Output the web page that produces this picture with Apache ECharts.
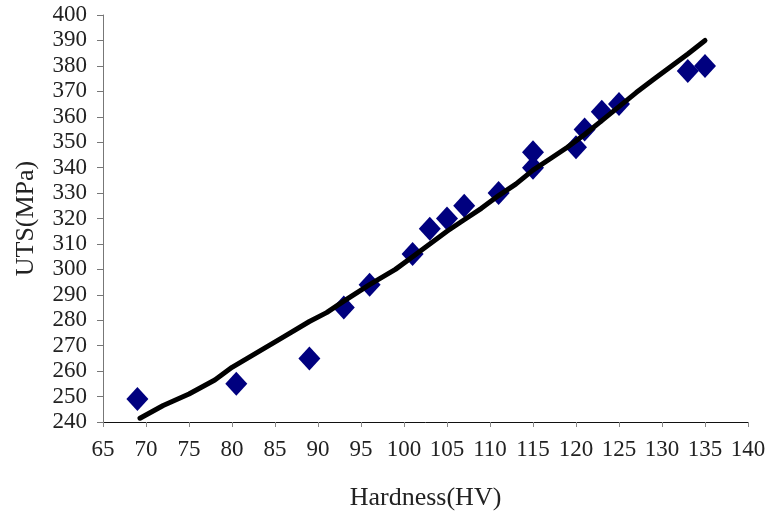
<!DOCTYPE html>
<html>
<head>
<meta charset="utf-8">
<script src="https://cdn.jsdelivr.net/npm/echarts@6/dist/echarts.min.js"></script>
<style>
  html, body { margin: 0; padding: 0; background: #fff; }
  #chart { width: 770px; height: 517px; }
</style>
</head>
<body>
<div id="chart"></div>
<script>
// measured points: hardness (HV) vs UTS (MPa)
const hardness = [69, 80.5, 89, 93, 96, 101, 103, 105, 107, 111, 115, 115, 120, 121, 123, 125, 133, 135]
const uts = [249, 255, 265, 285, 294, 306, 316, 320, 325, 330, 346, 340, 348, 355, 362, 365, 378, 380]

// fitted curve
const fitX = [69.3, 72, 75, 78, 80, 83, 86, 89, 91, 93, 96, 99, 101, 103, 105, 107, 109, 111, 113, 115, 117, 119, 121, 123, 125, 127, 129, 131, 133, 135]
const fitY = [241.5, 246.5, 251, 256.5, 261.5, 267.5, 273.5, 279.5, 283, 287.5, 294, 300, 305, 310, 315, 319.5, 324, 329, 333.5, 339, 343.5, 348, 353, 358.5, 364, 369.5, 374.6, 379.7, 384.7, 390]

const font = 'Liberation Serif'

let pts = []
for (let i = 0; i < hardness.length; i++) {
  pts.push([hardness[i], uts[i]])
}
let fit = []
for (let i = 0; i < fitX.length; i++) {
  fit.push([fitX[i], fitY[i]])
}

var myChart = echarts.init(document.getElementById('chart'))

myChart.setOption({
  backgroundColor: '#fff',
  animation: false,
  grid: {
    left: 103,
    right: 22,
    top: 15,
    bottom: 95
  },
  xAxis: {
    type: 'value',
    min: 65,
    max: 140,
    interval: 5,
    name: 'Hardness(HV)',
    nameLocation: 'middle',
    nameGap: 63,
    nameTextStyle: { fontFamily: font, fontSize: 26, color: '#222' },
    axisLine: { lineStyle: { color: '#111', width: 1 } },
    axisTick: { length: 5, lineStyle: { color: '#888' } },
    axisLabel: { fontFamily: font, fontSize: 23, color: '#222', margin: 16 },
    splitLine: { show: false }
  },
  yAxis: {
    type: 'value',
    min: 240,
    max: 400,
    interval: 10,
    name: 'UTS(MPa)',
    nameLocation: 'middle',
    nameGap: 64,
    nameTextStyle: { fontFamily: font, fontSize: 26, color: '#222' },
    axisLine: { show: true, lineStyle: { color: '#777', width: 1 } },
    axisTick: { show: true, length: 6, lineStyle: { color: '#777' } },
    axisLabel: { fontFamily: font, fontSize: 23, color: '#222', margin: 16 },
    splitLine: { show: false }
  },
  series: [
    {
      name: 'data',
      type: 'scatter',
      symbol: 'diamond',
      symbolSize: [22, 24],
      data: pts,
      itemStyle: { color: '#00007f', opacity: 1 },
      z: 2
    },
    {
      name: 'fit',
      type: 'line',
      data: fit,
      showSymbol: false,
      smooth: false,
      lineStyle: { color: '#000', width: 5, cap: 'round', join: 'round' },
      z: 3
    }
  ]
})
</script>
</body>
</html>
